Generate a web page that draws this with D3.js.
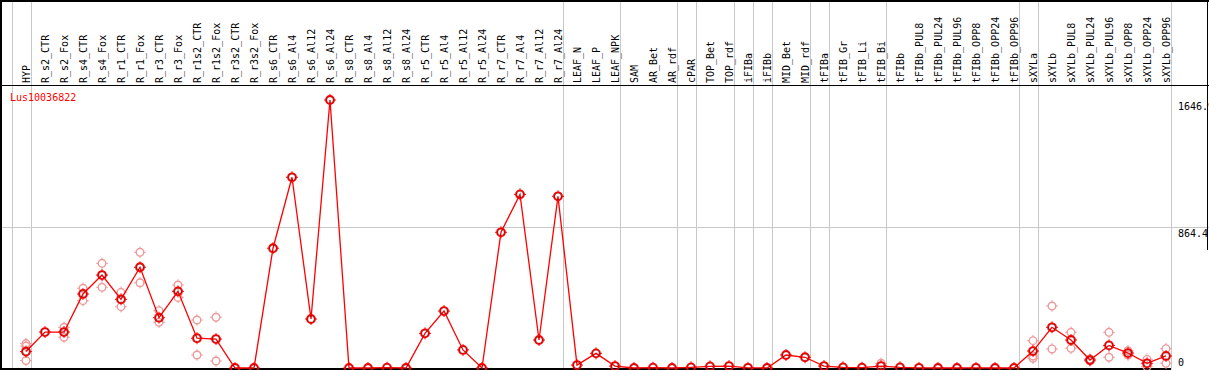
<!DOCTYPE html>
<html lang="en">
<head>
    <meta charset="UTF-8">
    <title>Lus10036822</title>
    <script src="https://d3js.org/d3.v7.min.js"></script>
    <style>
        body { margin: 0; background: #fff; }
        svg { display: block; }
        text { font-family: "DejaVu Sans Mono", monospace; font-size: 10px; }
    </style>
</head>
<body>
    <div id="chart"></div>
    <script>
        const geneName = "Lus10036822";

        const labels = [
            "HYP", "R_s2_CTR", "R_s2_Fox", "R_s4_CTR", "R_s4_Fox", "R_r1_CTR", "R_r1_Fox",
            "R_r3_CTR", "R_r3_Fox", "R_r1s2_CTR", "R_r1s2_Fox", "R_r3s2_CTR", "R_r3s2_Fox",
            "R_s6_CTR", "R_s6_Al4", "R_s6_Al12", "R_s6_Al24", "R_s8_CTR", "R_s8_Al4", "R_s8_Al12",
            "R_s8_Al24", "R_r5_CTR", "R_r5_Al4", "R_r5_Al12", "R_r5_Al24", "R_r7_CTR", "R_r7_Al4",
            "R_r7_Al12", "R_r7_Al24", "LEAF_N", "LEAF_P", "LEAF_NPK", "SAM", "AR_Bet", "AR_rdf",
            "cPAR", "TOP_Bet", "TOP_rdf", "iFIBa", "iFIBb", "MID_Bet", "MID_rdf", "tFIBa",
            "tFIB_Gr", "tFIB_Li", "tFIB_Bi", "tFIBb", "tFIBb_PUL8", "tFIBb_PUL24", "tFIBb_PUL96",
            "tFIBb_OPP8", "tFIBb_OPP24", "tFIBb_OPP96", "sXYLa", "sXYLb", "sXYLb_PUL8",
            "sXYLb_PUL24", "sXYLb_PUL96", "sXYLb_OPP8", "sXYLb_OPP24", "sXYLb_OPP96"
        ];

        const meanValues = [
            101, 221, 221, 455, 571, 422, 619, 309, 471, 183, 178, 0, 0,
            736, 1172, 301, 1646.9, 0, 0, 2, 0, 213, 350, 111, 0, 834, 1067, 172, 1055,
            18, 90, 12, 0, 2, 0, 4, 10, 12, 1, 0, 80, 66,
            12, 4, 2, 12, 4, 1, 0, 0, 1, 0, 0,
            104, 250, 172, 49, 139, 92, 29, 74
        ];

        // individual replicates (empty where hidden behind the mean)
        const replicateValues = [
            [150, 135, 46], [], [250, 189], [490, 414], [643, 496], [465, 377], [711, 524],
            [352, 281], [510, 434], [295, 80], [312, 43], [], [],
            [], [], [], [], [], [], [], [], [], [], [], [], [], [], [], [],
            [], [], [], [], [], [], [], [], [], [], [], [], [],
            [], [], [], [29], [], [], [], [], [], [], [],
            [168, 74, 60], [381, 117], [219, 121], [55, 43], [219, 66], [106, 80], [53, 8], [119, 29]
        ];

        // last sample of each group, a grey separator is drawn after it
        const groupEnds = [
            "HYP", "R_r7_Al24", "LEAF_NPK", "AR_rdf", "cPAR", "TOP_rdf", "iFIBa", "iFIBb",
            "MID_rdf", "tFIBa", "tFIB_Bi", "tFIBb_OPP96", "sXYLa", "sXYLb_OPP96"
        ];

        const yMax = 1646.9;
        const yTicks = [0, 864.4, 1646.9];
        const yTickText = ["0", "864.4", "1646.9"];

        const width = 1209;
        const height = 370;
        const headerBottom = 85;
        const plotRight = 1171;

        const x = d3.scalePoint().domain(labels).range([26, 1166]);
        const y = d3.scaleLinear().domain([0, yMax]).range([368, 100]);
        const step = x.step();

        const svg = d3.select("#chart").append("svg")
            .attr("width", width)
            .attr("height", height)
            .attr("viewBox", [0, 0, width, height]);

        // vertical group separators
        const sepX = [x(labels[0]) - step + 4.5].concat(groupEnds.map(d => x(d) + 4.5));
        svg.append("g")
            .attr("stroke", "#c8c8c8")
            .attr("shape-rendering", "crispEdges")
            .selectAll("line")
            .data(sepX)
            .join("line")
            .attr("x1", d => Math.round(d) + 0.5)
            .attr("x2", d => Math.round(d) + 0.5)
            .attr("y1", 0)
            .attr("y2", 369);

        // horizontal mid gridline
        svg.append("line")
            .attr("x1", 0).attr("x2", width)
            .attr("y1", Math.round(y(yTicks[1])) + 0.5)
            .attr("y2", Math.round(y(yTicks[1])) + 0.5)
            .attr("stroke", "#c8c8c8")
            .attr("shape-rendering", "crispEdges");

        // frame
        const frame = svg.append("g")
            .attr("stroke", "#000")
            .attr("stroke-width", 1.5)
            .attr("shape-rendering", "crispEdges");
        frame.append("line").attr("x1", 0).attr("x2", width).attr("y1", 0.75).attr("y2", 0.75);
        frame.append("line").attr("x1", 0.75).attr("x2", 0.75).attr("y1", 0).attr("y2", 369);
        frame.append("line").attr("x1", 0).attr("x2", width).attr("y1", headerBottom + 0.5).attr("y2", headerBottom + 0.5);
        frame.append("line").attr("x1", 0).attr("x2", plotRight).attr("y1", 368.75).attr("y2", 368.75);
        frame.append("line").attr("x1", 1207.25).attr("x2", 1207.25).attr("y1", 0).attr("y2", 250);

        // column labels
        svg.append("g")
            .selectAll("text")
            .data(labels)
            .join("text")
            .attr("transform", d => `translate(${x(d) + 4},83) rotate(-90)`)
            .attr("fill", "#000")
            .text(d => d);

        // y labels on the right
        svg.append("g")
            .selectAll("text")
            .data(yTicks)
            .join("text")
            .attr("x", 1178)
            .attr("y", (d, i) => i === 0 ? y(d) - 2 : y(d) + 10)
            .attr("fill", "#000")
            .text((d, i) => yTickText[i]);

        // gene name
        svg.append("text")
            .attr("x", 10)
            .attr("y", 101)
            .attr("fill", "#ff0000")
            .text(geneName);

        function marker(g, r, color, width) {
            g.append("circle")
                .attr("r", r)
                .attr("fill", "none")
                .attr("stroke", color)
                .attr("stroke-width", width);
            g.append("path")
                .attr("d", `M0,${-r - 2}V${-r}M0,${r}V${r + 2}M${-r - 2},0H${-r}M${r},0H${r + 2}`)
                .attr("stroke", color)
                .attr("stroke-width", 1);
        }

        // replicates
        const reps = labels.flatMap((d, i) => replicateValues[i].map(v => ({ label: d, value: v })));
        svg.append("g")
            .selectAll("g")
            .data(reps)
            .join("g")
            .attr("transform", d => `translate(${x(d.label)},${y(d.value)})`)
            .each(function () { marker(d3.select(this), 3.8, "#ee9a9a", 1.4); });

        // mean line
        const line = d3.line()
            .x((d, i) => x(labels[i]))
            .y(d => y(d));
        svg.append("path")
            .datum(meanValues)
            .attr("fill", "none")
            .attr("stroke", "#ff0000")
            .attr("stroke-width", 1.3)
            .attr("d", line);

        // mean markers
        const means = svg.append("g")
            .selectAll("g")
            .data(meanValues)
            .join("g")
            .attr("transform", (d, i) => `translate(${x(labels[i])},${y(d)})`);
        means.each(function () {
            const g = d3.select(this);
            marker(g, 4, "#ff0000", 1.8);
            g.append("circle")
                .attr("r", 3.2)
                .attr("fill", "none")
                .attr("stroke", "#000")
                .attr("stroke-opacity", 0.55)
                .attr("stroke-width", 0.6);
        });
    </script>
</body>
</html>
